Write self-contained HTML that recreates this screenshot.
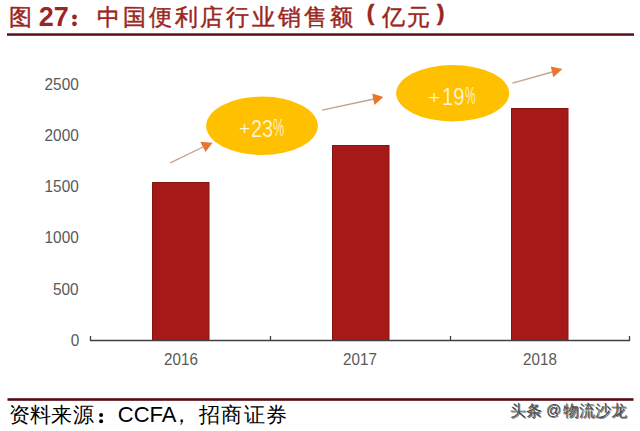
<!DOCTYPE html>
<html><head><meta charset="utf-8">
<style>
html,body{margin:0;padding:0;background:#fff;}
body{width:640px;height:431px;position:relative;overflow:hidden;font-family:"Liberation Sans",sans-serif;}
.t{position:absolute;white-space:nowrap;line-height:1;}
.tt{color:#9a2620;font-size:23px;font-weight:500;-webkit-text-stroke:0.45px #9a2620;}
#n27{left:38.8px;top:4.1px;font-size:27px;font-weight:bold;color:#9a2620;}
.yl{position:absolute;right:561.3px;font-size:16.5px;color:#595959;line-height:16.5px;text-align:right;white-space:nowrap;transform:scaleX(0.93);transform-origin:100% 50%;}
.xl{position:absolute;width:80px;font-size:16.5px;color:#595959;line-height:16.5px;text-align:center;transform:scaleX(0.92);}
.pp{position:absolute;white-space:nowrap;line-height:1;color:#fff6dc;transform-origin:0 0;-webkit-text-stroke:0.2px #ffc000;}
.src{font-size:21px;color:#000;}
.wm{font-size:16px;color:#4a4a4a;text-shadow:0.6px 0.6px 0 rgba(0,0,0,0.55);}
svg{position:absolute;left:0;top:0;}
</style></head>
<body>
<svg width="640" height="431" viewBox="0 0 640 431">
  <rect x="7" y="33.3" width="627" height="2.5" fill="#5c0c18"/>
  <rect x="7.5" y="398.2" width="626" height="2.6" fill="#580a12"/>
  <!-- colon -->
  <circle cx="74.5" cy="17" r="2.4" fill="#9a2620"/>
  <circle cx="74.5" cy="23.8" r="2.4" fill="#9a2620"/>
  <circle cx="101.1" cy="415.1" r="2" fill="#000"/>
  <circle cx="101.1" cy="421.2" r="2" fill="#000"/>
  <!-- bars -->
  <g fill="#a51a19" stroke="#851414" stroke-width="1">
  <rect x="152.5" y="182.5" width="56.5" height="158"/>
  <rect x="332.5" y="145.5" width="56.5" height="195"/>
  <rect x="511.5" y="108.5" width="56.5" height="232"/>
  </g>
  <!-- axis -->
  <path d="M90 340.5H630M90.5 336V341M270.5 336V341M450.5 336V341M629.5 336V341" stroke="#404040" stroke-width="1.3" fill="none"/>
  <!-- ellipses -->
  <ellipse cx="262" cy="125.8" rx="55.9" ry="29.2" fill="#ffc000"/>
  <ellipse cx="452.7" cy="93.3" rx="56.5" ry="28.2" fill="#ffc000"/>
  <!-- arrows -->
  <g stroke="#c4a28a" stroke-width="1.3" fill="none">
    <line x1="170.3" y1="162.8" x2="203" y2="147"/>
    <line x1="322" y1="110.2" x2="374" y2="99"/>
    <line x1="512.5" y1="83.1" x2="552" y2="72"/>
  </g>
  <g fill="#e8762c">
    <polygon points="200.3,141.7 212.5,142.7 205.5,152"/>
    <polygon points="372.2,93.4 383.4,96.9 374.4,105"/>
    <polygon points="550.8,66.5 562.4,69.1 553.3,77.2"/>
  </g>
</svg>
<div class="t tt" style="left:9px;top:6px">图</div>
<div class="t" id="n27">27</div>
<div class="t tt" style="left:97px;top:6px;letter-spacing:2.85px">中国便利店行业销售额</div>
<div class="t tt" style="left:366.75px;top:2.4px;font-size:22.5px;font-weight:bold">(</div>
<div class="t tt" style="left:381.5px;top:6px;letter-spacing:2.4px">亿元</div>
<div class="t tt" style="left:436.95px;top:2.4px;font-size:22.5px;font-weight:bold">)</div>
<div class="yl" style="top:75.8px">2500</div>
<div class="yl" style="top:127px">2000</div>
<div class="yl" style="top:178.2px">1500</div>
<div class="yl" style="top:229.4px">1000</div>
<div class="yl" style="top:280.6px">500</div>
<div class="yl" style="top:331.8px">0</div>
<div class="xl" style="left:140.7px;top:351px">2016</div>
<div class="xl" style="left:320.1px;top:351px">2017</div>
<div class="xl" style="left:500px;top:351px">2018</div>
<div class="pp" style="left:238.9px;top:120.4px;font-size:18px;transform:scaleX(1.06)">+</div>
<div class="pp" style="left:251.4px;top:117.5px;font-size:23.4px;transform:scaleX(0.85)">23</div>
<div class="pp" style="left:273.4px;top:117.3px;font-size:23.4px;transform:scaleX(0.54)">%</div>
<div class="pp" style="left:428.2px;top:88.6px;font-size:18px;transform:scaleX(1.18)">+</div>
<div class="pp" style="left:441.9px;top:84.5px;font-size:23.8px;transform:scaleX(0.845)">19</div>
<div class="pp" style="left:464.5px;top:84.3px;font-size:23.8px;transform:scaleX(0.5)">%</div>
<div class="t src" style="left:8.7px;top:404px;letter-spacing:0.3px">资料来源</div>
<div class="t" style="left:117.75px;top:404.2px;font-size:22px;color:#000">CCFA</div>
<div class="t src" style="left:170.7px;top:403.5px">，</div>
<div class="t src" style="left:199.15px;top:404px;letter-spacing:1.2px">招商证券</div>
<div class="t wm" style="left:510px;top:403px">头条</div>
<div class="t wm" style="left:546.1px;top:402px;font-size:15px">@</div>
<div class="t wm" style="left:563px;top:402.5px;letter-spacing:0.1px">物流沙龙</div>
</body></html>
